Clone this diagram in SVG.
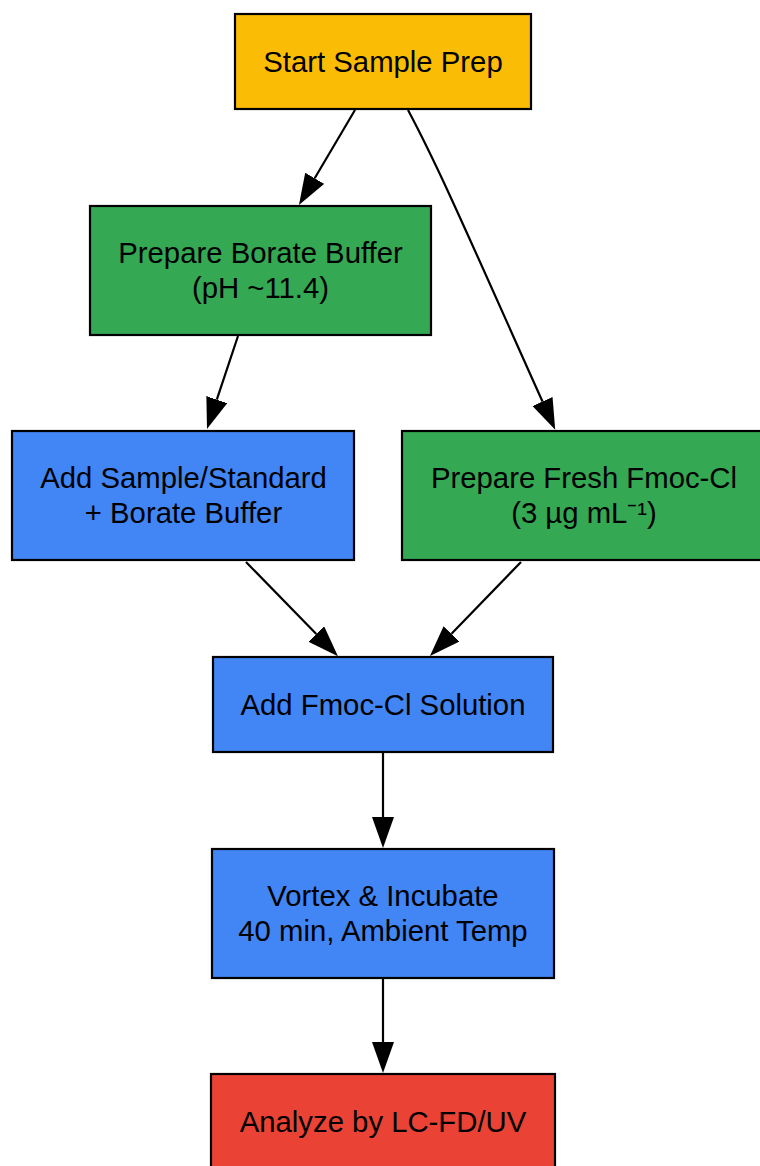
<svg xmlns="http://www.w3.org/2000/svg" width="760" height="1166" viewBox="0 0 760 1166">
<style>
.n{stroke:#000;stroke-width:2.2}
.t{font-family:"Liberation Sans",Arial,sans-serif;font-size:29.3px;fill:#000;text-anchor:middle}
.e{fill:none;stroke:#000;stroke-width:2.2}
</style>
<defs>
<marker id="ah" markerUnits="userSpaceOnUse" markerWidth="32" markerHeight="23" refX="0" refY="11" orient="auto" viewBox="0 0 32 23">
<path d="M0,0 L31,11 L0,22 Z" fill="#000"/>
</marker>
</defs>
<rect width="760" height="1166" fill="#fff"/>
<g id="edges">
<path class="e" d="M355,110 L314.7,178.3" marker-end="url(#ah)"/>
<path class="e" d="M408,110 C440,170 470,240 542.5,401.5" marker-end="url(#ah)"/>
<path class="e" d="M238,336 L216.8,399.6" marker-end="url(#ah)"/>
<path class="e" d="M246,562 L316.3,634" marker-end="url(#ah)"/>
<path class="e" d="M521,562 L451.5,633.8" marker-end="url(#ah)"/>
<path class="e" d="M383,753 L383,817" marker-end="url(#ah)"/>
<path class="e" d="M383,979 L383,1042" marker-end="url(#ah)"/>
</g>
<g id="start">
<rect class="n" x="235" y="14" width="296" height="95" fill="#FBBC05"/>
<text class="t" x="383" y="72">Start Sample Prep</text>
</g>
<g id="borate">
<rect class="n" x="90" y="206" width="341" height="129" fill="#34A853"/>
<text class="t" x="260.5" y="263">Prepare Borate Buffer</text>
<text class="t" x="260.5" y="298">(pH ~11.4)</text>
</g>
<g id="addsample">
<rect class="n" x="12" y="431" width="342" height="129" fill="#4285F4"/>
<text class="t" x="183.5" y="488">Add Sample/Standard</text>
<text class="t" x="183.5" y="523">+ Borate Buffer</text>
</g>
<g id="fmoc">
<rect class="n" x="402" y="431" width="364" height="129" fill="#34A853"/>
<text class="t" x="584" y="488">Prepare Fresh Fmoc-Cl</text>
<text class="t" x="584" y="523">(3 µg mL⁻¹)</text>
</g>
<g id="addfmoc">
<rect class="n" x="213" y="657" width="340" height="95" fill="#4285F4"/>
<text class="t" x="383" y="715">Add Fmoc-Cl Solution</text>
</g>
<g id="vortex">
<rect class="n" x="212" y="849" width="342" height="129" fill="#4285F4"/>
<text class="t" x="383" y="906">Vortex &amp; Incubate</text>
<text class="t" x="383" y="941">40 min, Ambient Temp</text>
</g>
<g id="analyze">
<rect class="n" x="211" y="1074" width="344" height="110" fill="#EA4335"/>
<text class="t" x="383" y="1132">Analyze by LC-FD/UV</text>
</g>
</svg>
